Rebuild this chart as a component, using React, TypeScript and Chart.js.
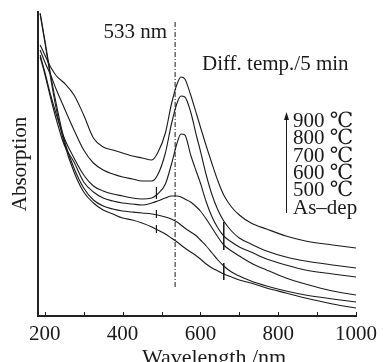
import React, { useEffect, useRef } from "react";
import { Chart, registerables } from "chart.js";

Chart.register(...registerables);

// ---- data ----
const wavelengths = [188, 200, 215, 230, 250, 275, 300, 325, 350, 375, 400, 425, 450, 475, 490, 510, 525, 540, 550, 560, 575, 590, 600, 615, 630, 645, 660, 680, 700, 730, 770, 820, 870, 940, 1000];

const abs900 = [2.71, 2.61, 2.49, 2.40, 2.33, 2.21, 2.01, 1.78, 1.69, 1.66, 1.63, 1.60, 1.58, 1.56, 1.63, 1.83, 2.11, 2.32, 2.39, 2.37, 2.21, 2.02, 1.89, 1.70, 1.52, 1.35, 1.21, 1.09, 1.01, 0.93, 0.87, 0.80, 0.75, 0.71, 0.68];
const abs800 = [2.66, 2.54, 2.41, 2.26, 2.08, 1.86, 1.66, 1.53, 1.46, 1.42, 1.39, 1.37, 1.35, 1.35, 1.41, 1.63, 1.91, 2.13, 2.20, 2.19, 2.04, 1.80, 1.65, 1.41, 1.21, 1.06, 0.95, 0.85, 0.78, 0.72, 0.65, 0.59, 0.55, 0.51, 0.48];
const abs700 = [2.61, 2.44, 2.21, 2.01, 1.78, 1.58, 1.41, 1.30, 1.25, 1.22, 1.20, 1.18, 1.17, 1.18, 1.22, 1.32, 1.51, 1.73, 1.82, 1.81, 1.61, 1.44, 1.33, 1.14, 0.99, 0.88, 0.80, 0.74, 0.69, 0.64, 0.57, 0.51, 0.46, 0.42, 0.39];
const abs600 = [2.59, 2.42, 2.18, 1.96, 1.71, 1.54, 1.34, 1.24, 1.18, 1.15, 1.13, 1.12, 1.11, 1.13, 1.15, 1.18, 1.20, 1.20, 1.19, 1.17, 1.14, 1.09, 1.05, 0.97, 0.88, 0.79, 0.71, 0.65, 0.60, 0.53, 0.46, 0.38, 0.32, 0.25, 0.21];
const abs500 = [3.03, 2.76, 2.41, 2.11, 1.76, 1.48, 1.28, 1.16, 1.10, 1.07, 1.05, 1.04, 1.03, 1.02, 1.01, 0.99, 0.97, 0.94, 0.91, 0.88, 0.84, 0.80, 0.76, 0.70, 0.63, 0.56, 0.50, 0.44, 0.40, 0.35, 0.30, 0.25, 0.21, 0.17, 0.14];
const absAsDep = [3.02, 2.74, 2.38, 2.06, 1.73, 1.44, 1.24, 1.13, 1.06, 1.02, 0.98, 0.96, 0.93, 0.89, 0.86, 0.82, 0.78, 0.74, 0.71, 0.68, 0.64, 0.60, 0.57, 0.52, 0.48, 0.45, 0.42, 0.39, 0.36, 0.33, 0.28, 0.23, 0.18, 0.12, 0.08];

const seriesLabels = ["900 \u2103", "800 \u2103", "700 \u2103", "600 \u2103", "500 \u2103", "As\u2013dep"];
const seriesValues = [abs900, abs800, abs700, abs600, abs500, absAsDep];

// detector-change step marks (x, y-from, y-to)
const stepMarkX = [487, 487, 487, 660, 660];
const stepMarkFrom = [1.29, 1.06, 0.91, 0.94, 0.53];
const stepMarkTo = [1.17, 0.98, 0.83, 0.66, 0.36];

const markerWavelength = 535;
const markerLow = 0.29;
const markerHigh = 2.94;
const markerLabel = "533 nm";
const seriesTitle = "Diff. temp./5 min";

const xMin = 182.5;
const xMax = 1000;
const yMin = 0;
const yMax = 3.04;
const xTickValues = [200, 300, 400, 500, 600, 700, 800, 900, 1000];
const xLabelValues = [200, 400, 600, 800, 1000];
const xTitle = "Wavelength /nm";
const yTitle = "Absorption";

const FONT = '"Liberation Serif", "DejaVu Serif", "Times New Roman", serif';
const INK = "#1a1a1a";

export default function App() {
  const ref = useRef<HTMLCanvasElement | null>(null);

  useEffect(() => {
    const canvas = ref.current;
    if (!canvas) return;

    const lineSets = seriesValues.map((vals, i) => ({
      label: seriesLabels[i],
      data: wavelengths.map((w, j) => ({ x: w, y: vals[j] })),
      borderColor: INK,
      borderWidth: 1.1,
      pointRadius: 0,
      fill: false,
      cubicInterpolationMode: "monotone" as const,
    }));

    const stepData: any[] = [];
    stepMarkX.forEach((x, i) => {
      stepData.push({ x, y: stepMarkFrom[i] }, { x, y: stepMarkTo[i] }, { x, y: null });
    });

    const markerSet = {
      label: "marker",
      data: [
        { x: markerWavelength, y: markerLow },
        { x: markerWavelength, y: markerHigh },
      ],
      borderColor: INK,
      borderWidth: 1,
      borderDash: [5, 2, 1, 2],
      pointRadius: 0,
      fill: false,
    };

    const stepSet = {
      label: "steps",
      data: stepData,
      borderColor: INK,
      borderWidth: 1,
      pointRadius: 0,
      spanGaps: false,
      fill: false,
    };

    const textPlugin = {
      id: "annotations",
      afterDraw(chart: any) {
        const { ctx, chartArea, scales } = chart;
        const xs = scales.x;
        ctx.save();
        // inward ticks
        ctx.strokeStyle = INK;
        ctx.lineWidth = 1;
        xTickValues.forEach((v) => {
          const px = Math.round(xs.getPixelForValue(v)) + 0.5;
          ctx.beginPath();
          ctx.moveTo(px, chartArea.bottom);
          ctx.lineTo(px, chartArea.bottom - 4);
          ctx.stroke();
        });
        // texts
        ctx.fillStyle = INK;
        ctx.font = `21px ${FONT}`;
        ctx.textBaseline = "alphabetic";
        ctx.textAlign = "right";
        ctx.fillText(markerLabel, xs.getPixelForValue(markerWavelength) - 8, 38);
        ctx.textAlign = "left";
        ctx.fillText(seriesTitle, 202, 70);
        const lx = 293;
        seriesLabels.forEach((t, i) => {
          ctx.fillText(t, lx, 127 + i * 17.3);
        });
        // arrow
        const ax = 286.5;
        ctx.beginPath();
        ctx.moveTo(ax, 213);
        ctx.lineTo(ax, 118);
        ctx.stroke();
        ctx.beginPath();
        ctx.moveTo(ax, 112);
        ctx.lineTo(ax - 2.5, 120);
        ctx.lineTo(ax + 2.5, 120);
        ctx.closePath();
        ctx.fill();
        // x title
        ctx.font = `22px ${FONT}`;
        ctx.textAlign = "center";
        ctx.fillText(xTitle, 214, 364);
        ctx.restore();
      },
    };

    const chart = new Chart(canvas, {
      type: "line",
      data: { datasets: [...lineSets, markerSet, stepSet] as any },
      options: {
        animation: false,
        responsive: false,
        maintainAspectRatio: false,
        layout: { padding: { top: 12, right: 18, left: 0, bottom: 0 } },
        plugins: { legend: { display: false }, tooltip: { enabled: false } },
        scales: {
          x: {
            type: "linear",
            min: xMin,
            max: xMax,
            afterBuildTicks: (s: any) => {
              s.ticks = xTickValues.map((v) => ({ value: v }));
            },
            afterFit: (s: any) => {
              s.height = 46;
            },
            ticks: {
              autoSkip: false,
              maxRotation: 0,
              padding: 6,
              color: INK,
              font: { family: FONT, size: 21 },
              callback: (v: any) => (xLabelValues.includes(Number(v)) ? String(v) : ""),
            },
            grid: { drawOnChartArea: false, drawTicks: false },
            border: { display: true, width: 2, color: "#222" },
          },
          y: {
            type: "linear",
            min: yMin,
            max: yMax,
            afterFit: (s: any) => {
              s.width = 38;
            },
            ticks: { display: false },
            grid: { drawOnChartArea: false, drawTicks: false },
            border: { display: true, width: 2, color: "#222" },
            title: {
              display: true,
              text: yTitle,
              color: INK,
              font: { family: FONT, size: 21 },
              padding: { top: 8, bottom: 0 },
            },
          },
        },
      },
      plugins: [textPlugin],
    } as any);

    return () => chart.destroy();
  }, []);

  return (
    <div style={{ position: "fixed", left: 0, top: 0, width: 383, height: 362, background: "#fff", overflow: "hidden" }}>
      <canvas ref={ref} width={383} height={362} style={{ display: "block" }} />
    </div>
  );
}
